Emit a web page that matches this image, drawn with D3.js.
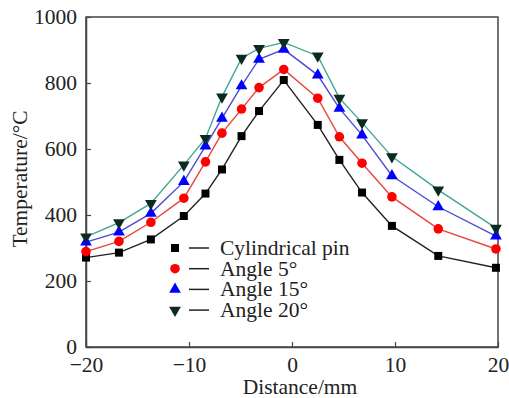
<!DOCTYPE html>
<html><head><meta charset="utf-8">
<script src="https://cdn.jsdelivr.net/npm/d3@7/dist/d3.min.js"></script>
<style>body{margin:0;background:#fff}svg{display:block}</style>
</head><body>
<script>
const distance = [-20, -16.8, -13.7, -10.5, -8.4, -6.8, -4.9, -3.2, -0.8, 2.5, 4.6, 6.8, 9.7, 14.2, 19.8];
const cylindrical = [271, 286, 326, 397, 465, 538, 639, 715, 809, 673, 567, 468, 367, 276, 240];
const angle5 = [289, 320, 378, 451, 561, 648, 721, 786, 841, 754, 637, 557, 455, 358, 297];
const angle15 = [318, 348, 405, 501, 609, 693, 791, 872, 902, 824, 723, 642, 519, 425, 336];
const angle20 = [334, 377, 435, 552, 632, 758, 875, 905, 923, 882, 754, 680, 577, 476, 360];
const seriesNames = ["Cylindrical pin", "Angle 5°", "Angle 15°", "Angle 20°"];
const xTicks = [-20, -10, 0, 10, 20];
const yTicks = [0, 200, 400, 600, 800, 1000];

const W = 509, H = 398;
const m = {l: 86, r: 11, t: 17, b: 51};
const svg = d3.select("body").append("svg").attr("width", W).attr("height", H);
const x = d3.scaleLinear().domain([-20, 20]).range([m.l, W - m.r]);
const y = d3.scaleLinear().domain([0, 1000]).range([H - m.b, m.t]);
const font = "'Liberation Serif', 'Times New Roman', serif";
const fs = 21.5;
const axisCol = "#444";

const series = [
  {name: seriesNames[0], vals: cylindrical, line: "#222", fill: "#000", shape: d3.symbolSquare, size: 64, rot: 0},
  {name: seriesNames[1], vals: angle5, line: "#e8453c", fill: "#ff0000", shape: d3.symbolCircle, size: 72, rot: 0},
  {name: seriesNames[2], vals: angle15, line: "#4b4bd6", fill: "#0000ff", shape: d3.symbolTriangle, size: 60, rot: 0},
  {name: seriesNames[3], vals: angle20, line: "#3fa596", fill: "#0d2a22", shape: d3.symbolTriangle, size: 60, rot: 180}
];

// frame
svg.append("rect").attr("x", m.l).attr("y", m.t).attr("width", W - m.r - m.l).attr("height", H - m.b - m.t)
  .attr("fill", "none").attr("stroke", axisCol).attr("stroke-width", 1.5);

// axes
const xAxis = d3.axisBottom(x).tickValues(xTicks).tickSizeInner(-5).tickSizeOuter(0).tickPadding(10).tickFormat(d => d < 0 ? "\u2212" + Math.abs(d) : String(d));
const gx = svg.append("g").attr("transform", `translate(0,${H - m.b})`).call(xAxis);
const yAxis = d3.axisLeft(y).tickValues(yTicks).tickSizeInner(-5).tickSizeOuter(0).tickPadding(9).tickFormat(d => String(d));
const gy = svg.append("g").attr("transform", `translate(${m.l},0)`).call(yAxis);
[gx, gy].forEach(g => {
  g.select(".domain").attr("stroke", axisCol).attr("stroke-width", 1.5);
  g.selectAll(".tick line").attr("stroke", axisCol).attr("stroke-width", 1.2);
  g.selectAll("text").attr("font-family", font).attr("font-size", fs).attr("fill", "#222");
});

// lines and markers
const line = d3.line().x((d, i) => x(distance[i])).y(d => y(d));
series.forEach(s => {
  svg.append("path").datum(s.vals).attr("d", line).attr("fill", "none").attr("stroke", s.line).attr("stroke-width", 1.4);
});
series.forEach(s => {
  svg.selectAll(null).data(s.vals).enter().append("path")
    .attr("d", d3.symbol().type(s.shape).size(s.size))
    .attr("transform", (d, i) => `translate(${x(distance[i])},${y(d)}) rotate(${s.rot})`)
    .attr("fill", s.fill);
});

// legend
const lg = svg.append("g");
series.forEach((s, i) => {
  const yy = 248 + i * 20.7;
  lg.append("path").attr("d", d3.symbol().type(s.shape).size(s.size))
    .attr("transform", `translate(175,${yy}) rotate(${s.rot})`).attr("fill", s.fill);
  lg.append("line").attr("x1", 189).attr("x2", 209).attr("y1", yy).attr("y2", yy).attr("stroke", "#222").attr("stroke-width", 1.5);
  lg.append("text").attr("x", 220).attr("y", yy + 7).text(s.name)
    .attr("font-family", font).attr("font-size", fs).attr("fill", "#222");
});

// axis titles
svg.append("text").attr("x", 300).attr("y", 394).attr("text-anchor", "middle").text("Distance/mm")
  .attr("font-family", font).attr("font-size", fs).attr("fill", "#222");
svg.append("text").attr("transform", `translate(27,179) rotate(-90)`).attr("text-anchor", "middle")
  .text("Temperature/°C").attr("font-family", font).attr("font-size", fs).attr("fill", "#222");
</script>
</body></html>
